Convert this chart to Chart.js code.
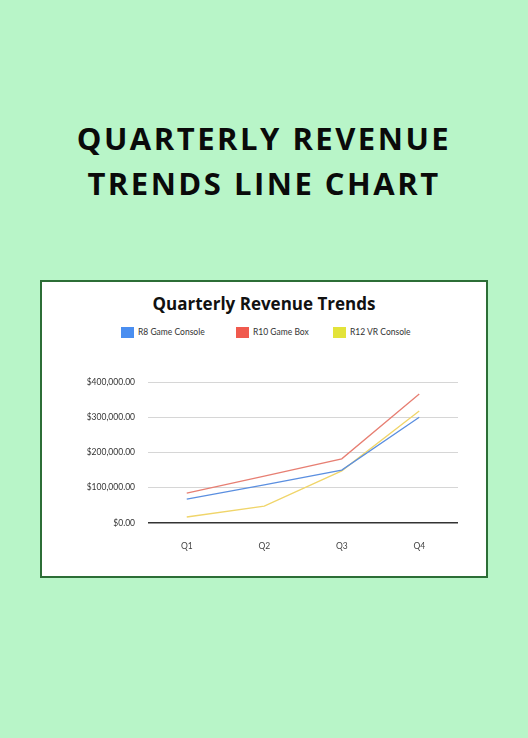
<!DOCTYPE html>
<html><head><meta charset="utf-8">
<script src="https://cdn.jsdelivr.net/npm/chart.js@4"></script>
<style>
body{margin:0;width:528px;height:738px;background:#b8f5c8;position:relative;font-family:Montserrat,"Open Sans",Lato,sans-serif;overflow:hidden}
#h{position:absolute;top:116px;left:0;width:528px;text-align:center;font-weight:700;font-size:31px;line-height:45px;letter-spacing:2.5px;color:#0a0a0a;font-family:"Open Sans",Lato,sans-serif}
#box{position:absolute;left:40px;top:280px;width:444px;height:294px;border:2px solid #2c6e36;background:#fff}
#t{position:absolute;top:10px;left:0;width:444px;text-align:center;font-weight:700;font-size:17px;color:#111;font-family:"Open Sans",Lato,sans-serif}
.lg{position:absolute;top:45px;font-size:8.5px;color:#333;font-family:Lato,sans-serif;white-space:nowrap}
.lg i{display:inline-block;width:13px;height:11px;vertical-align:middle;margin-right:4px}
canvas{position:absolute;left:0;top:0}
</style></head><body>
<div id="h">QUARTERLY REVENUE<br>TRENDS LINE CHART</div>
<div id="box">
<div id="t">Quarterly Revenue Trends</div>
<div class="lg" style="left:79px"><i style="background:#4a8ef0"></i>R8 Game Console</div>
<div class="lg" style="left:194px"><i style="background:#f05a4e"></i>R10 Game Box</div>
<div class="lg" style="left:291px"><i style="background:#e3e33a"></i>R12 VR Console</div>
<div style="position:absolute;left:0;top:0;width:444px;height:294px"><canvas id="c"></canvas></div>
</div>
<script>
const categories=["Q1","Q2","Q3","Q4"];
const r8=[68000,108000,150000,300000];
const r10=[85000,133000,182000,366000];
const r12=[17000,48000,148000,318000];
const yTicks=[0,100000,200000,300000,400000];
new Chart(document.getElementById('c'),{type:'line',
data:{labels:categories,datasets:[
{label:'R8 Game Console',data:r8,borderColor:'#5b8fe0',borderWidth:1.3,pointRadius:0,tension:0},
{label:'R10 Game Box',data:r10,borderColor:'#e77f73',borderWidth:1.3,pointRadius:0,tension:0},
{label:'R12 VR Console',data:r12,borderColor:'#f0d56a',borderWidth:1.3,pointRadius:0,tension:0}]},
options:{responsive:true,maintainAspectRatio:false,animation:false,
layout:{padding:{top:100,right:28,bottom:0,left:0}},
plugins:{legend:{display:false},title:{display:false},tooltip:{enabled:false}},
scales:{
x:{offset:true,grid:{display:false},border:{display:false},afterFit:s=>{s.height=53},
ticks:{color:'#444',font:{family:'Lato',size:8.5},padding:10}},
y:{min:0,max:400000,afterFit:s=>{s.width=106},border:{display:false},
afterBuildTicks:s=>{s.ticks=yTicks.map(v=>({value:v}))},
grid:{color:c=>c.tick&&c.tick.value===0?'#333':'#d6d6d6',lineWidth:c=>c.tick&&c.tick.value===0?1.6:1,drawTicks:false},
ticks:{color:'#333',font:{family:'Lato',size:8.5},padding:13,
callback:v=>'$'+Number(v).toLocaleString('en-US',{minimumFractionDigits:2})}}}}});
</script></body></html>
